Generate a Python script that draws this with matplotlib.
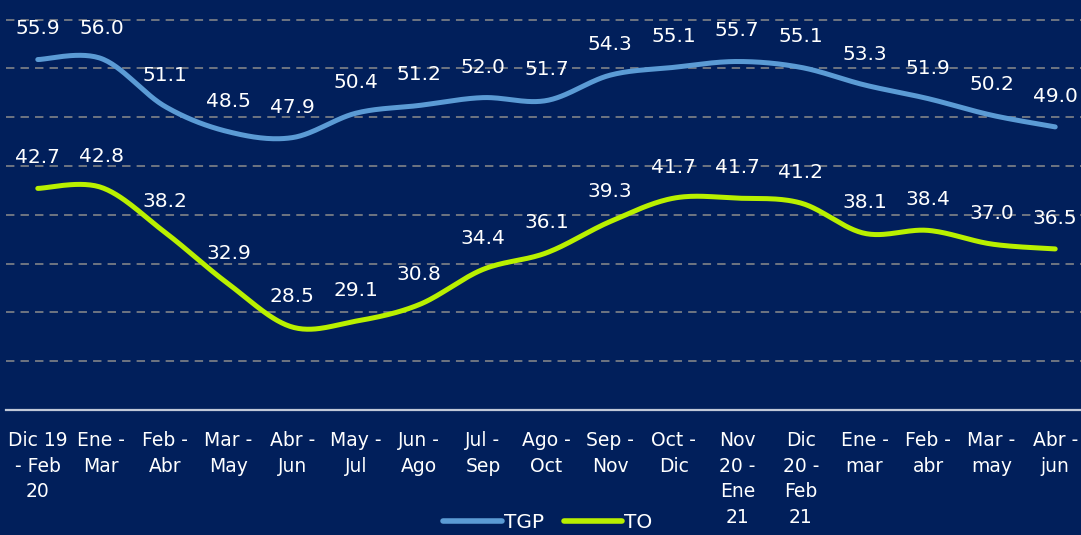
import numpy as np
import matplotlib
matplotlib.use("Agg")
import matplotlib.pyplot as plt
from matplotlib.lines import Line2D

categories = ["Dic 19\n- Feb\n20", "Ene -\nMar", "Feb -\nAbr", "Mar -\nMay", "Abr -\nJun",
              "May -\nJul", "Jun -\nAgo", "Jul -\nSep", "Ago -\nOct", "Sep -\nNov",
              "Oct -\nDic", "Nov\n20 -\nEne\n21", "Dic\n20 -\nFeb\n21", "Ene -\nmar",
              "Feb -\nabr", "Mar -\nmay", "Abr -\njun"]
tgp = [55.9, 56.0, 51.1, 48.5, 47.9, 50.4, 51.2, 52.0, 51.7, 54.3, 55.1, 55.7, 55.1, 53.3, 51.9, 50.2, 49.0]
to = [42.7, 42.8, 38.2, 32.9, 28.5, 29.1, 30.8, 34.4, 36.1, 39.3, 41.7, 41.7, 41.2, 38.1, 38.4, 37.0, 36.5]
series_names = ["TGP", "TO"]

BG = "#011f5b"
C_TGP = "#5b9bd5"
C_TO = "#b9f000"
FONT = "DejaVu Sans"


def smooth(xs, ys, n=30):
    """Catmull-Rom style smoothing of the polyline (drawing only)."""
    P = np.column_stack([xs, ys]).astype(float)
    P = np.vstack([P[0], P, P[-1]])
    out = []
    t = np.linspace(0, 1, n, endpoint=False)
    for i in range(1, len(P) - 2):
        p0, p1, p2, p3 = P[i - 1], P[i], P[i + 1], P[i + 2]
        b1 = p1 + (p2 - p0) / 6.0
        b2 = p2 - (p3 - p1) / 6.0
        seg = ((1 - t) ** 3)[:, None] * p1 + (3 * (1 - t) ** 2 * t)[:, None] * b1 \
            + (3 * (1 - t) * t ** 2)[:, None] * b2 + (t ** 3)[:, None] * p2
        out.append(seg)
    out.append(P[-2][None, :])
    out = np.vstack(out)
    return out[:, 0], out[:, 1]


fig = plt.figure(figsize=(10.81, 5.35), dpi=100, facecolor=BG)
ax = fig.add_axes([6 / 1081, 125 / 535, 1.0, 410 / 535])
ax.set_facecolor(BG)

x = np.arange(len(categories))
for vals, col in [(tgp, C_TGP), (to, C_TO)]:
    sx, sy = smooth(x, vals)
    ax.plot(sx, sy, color=col, lw=3.6, solid_capstyle="round", zorder=3)
    for xi, v in zip(x, vals):
        ax.annotate(f"{v:.1f}", (xi, v), xytext=(0, 22), textcoords="offset points",
                    ha="center", va="center", color="white", fontsize=14.5,
                    family=FONT, zorder=4)

ax.set_xlim(-0.5, len(categories) - 0.5)
ax.set_ylim(20, 62)
ax.set_yticks(np.arange(25, 61, 5))
ax.yaxis.grid(True, color="#8c8c8c", linestyle=(0, (5.5, 4)), lw=1.1)
ax.set_axisbelow(True)
ax.tick_params(axis="y", left=False, labelleft=False)
ax.set_xticks(x)
ax.set_xticklabels(categories, color="white", fontsize=13.5, family=FONT, linespacing=1.45)
ax.tick_params(axis="x", length=0, pad=15)
for s in ["left", "right", "top"]:
    ax.spines[s].set_visible(False)
ax.spines["bottom"].set_color("#c0c8d8")
ax.spines["bottom"].set_linewidth(1.6)

handles = [Line2D([], [], color=C_TGP, lw=4, solid_capstyle="round"),
           Line2D([], [], color=C_TO, lw=4, solid_capstyle="round")]
fig.legend(handles, series_names, loc="center", bbox_to_anchor=(548 / 1081, 0.024),
           ncol=2, frameon=False, handlelength=2.9, handletextpad=0.1,
           columnspacing=1.0, labelcolor="white", prop={"family": FONT, "size": 14.5})

fig.savefig("out.png", dpi=100, facecolor=BG)
